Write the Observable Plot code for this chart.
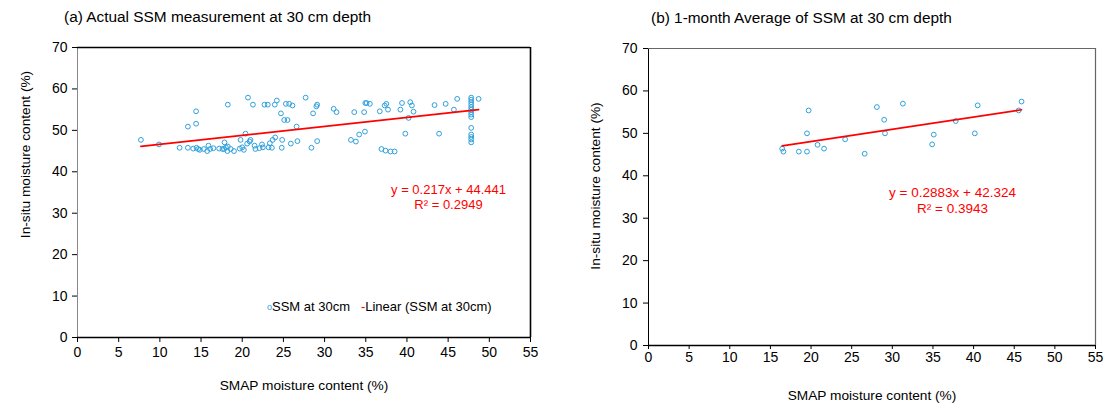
<!DOCTYPE html>
<html>
<head>
<meta charset="utf-8">
<script src="https://cdn.jsdelivr.net/npm/d3@7"></script>
<script src="https://cdn.jsdelivr.net/npm/@observablehq/plot@0.6"></script>
<style>
  html, body { margin: 0; padding: 0; background: #fff; }
  body { width: 1104px; height: 403px; position: relative; overflow: hidden;
         font-family: "Liberation Sans", Arial, sans-serif; }
  .panel { position: absolute; top: 0; }
  .title { position: absolute; font-size: 15.4px; color: #000; white-space: nowrap; }
  .legend { position: absolute; font-size: 13px; color: #000; white-space: nowrap; }
  svg text { font-family: "Liberation Sans", Arial, sans-serif; }
</style>
</head>
<body>
<div id="left" class="panel" style="left:0px"></div>
<div id="right" class="panel" style="left:560px"></div>
<div class="title" style="left:64px; top:8px;">(a) Actual SSM measurement at 30 cm depth</div>
<div class="title" style="left:651px; top:9px;">(b) 1-month Average of SSM at 30 cm depth</div>
<div class="legend" style="left:267px; top:299px;"><span style="color:#2fa0dc;font-size:9px;vertical-align:1px;">o</span>SSM at 30cm&nbsp;&nbsp;&nbsp;<span style="color:#ff0000">-</span>Linear (SSM at 30cm)</div>
<script>
// ---------- Data ----------
// Panel (a): actual SSM measurement at 30 cm depth
const smapA = [
  7.7, 9.9, 12.4, 13.4, 14.05, 14.45, 14.65, 14.85, 15.35, 15.75, 15.9, 16.1, 16.5,
  17.2, 17.6, 17.8, 18.0, 18.2, 18.25, 18.6, 17.85, 19.0, 18.25, 13.4, 14.4, 14.4,
  19.7, 20.0, 20.2, 19.8, 20.4, 20.6, 20.9, 21.0, 20.7, 21.3, 21.5, 21.6, 22.1, 22.4, 22.5,
  22.7, 23.1, 23.2, 23.6, 23.35, 23.7, 24.0, 23.95, 24.2, 24.7, 24.8, 24.85, 25.1, 25.5,
  25.3, 25.7, 26.1, 25.9, 26.6, 26.7, 27.7, 28.4, 28.6, 29.0, 29.1, 29.1,
  31.1, 31.45, 33.2, 33.8, 34.2, 34.9, 33.6, 34.8, 34.95, 35.1, 35.5, 36.7,
  36.9, 37.4, 38.0, 38.5, 37.3, 37.5, 37.7, 39.2, 39.4, 39.8, 40.2, 40.4, 40.6, 40.8,
  43.35, 43.9, 44.7, 45.7, 46.1,
  47.8, 47.8, 47.8, 47.8, 47.8, 47.8, 47.8, 47.8, 47.8, 47.8, 47.8, 47.8, 47.8, 47.8,
  48.7
];
const insituA = [
  47.7, 46.6, 45.8, 45.8, 45.6, 45.8, 45.5, 45.3, 45.5, 45.0, 46.3, 45.5, 45.7,
  45.6, 45.5, 45.5, 45.9, 45.0, 46.1, 45.5, 47.1, 45.0, 56.2, 50.9, 54.6, 51.6,
  45.6, 45.9, 45.3, 47.7, 49.2, 46.8, 47.3, 47.7, 57.9, 56.2, 46.3, 45.5, 45.7, 46.6, 45.9,
  56.2, 56.2, 45.9, 45.8, 46.9, 47.7, 48.3, 56.2, 57.2, 54.1, 45.8, 47.7, 52.5, 52.5,
  56.4, 56.4, 56.0, 46.8, 50.9, 47.4, 57.9, 45.8, 54.1, 55.8, 56.2, 47.4,
  55.2, 54.4, 47.7, 47.3, 49.0, 49.7, 54.4, 54.4, 56.6, 56.6, 56.4, 54.6,
  45.5, 45.1, 44.9, 44.9, 56.0, 56.4, 55.0, 55.0, 56.6, 49.2, 53.0, 56.8, 56.0, 54.5,
  56.1, 49.2, 56.4, 55.0, 57.6,
  57.9, 57.4, 56.8, 56.2, 55.6, 55.0, 54.4, 53.8, 53.2, 50.6, 49.0, 48.4, 47.8, 47.1,
  57.6
];
// Panel (b): 1-month average of SSM at 30 cm depth
const smapB = [16.45, 16.6, 18.5, 19.5, 19.7, 19.5, 20.8, 21.6, 24.2, 26.6, 28.1, 29.0, 29.1,
  31.3, 34.9, 35.1, 37.8, 40.15, 40.5, 45.55, 45.9];
const insituB = [46.4, 45.7, 45.7, 45.7, 55.4, 50.0, 47.3, 46.4, 48.6, 45.2, 56.2, 53.2, 50.0,
  57.0, 47.4, 49.7, 52.9, 50.0, 56.6, 55.4, 57.5];
// Trend lines as printed on the chart
const fitA = {slope: 0.217, intercept: 44.441, r2: "0.2949"};
const fitB = {slope: 0.2883, intercept: 42.324, r2: "0.3943"};
const xTicks = [0, 5, 10, 15, 20, 25, 30, 35, 40, 45, 50, 55];
const yTicks = [0, 10, 20, 30, 40, 50, 60, 70];

const BLUE = "#2fa0dc";
const RED = "#ff0000";

function trend(xs, fit) {
  const lo = d3.min(xs), hi = d3.max(xs);
  return [lo, hi].map(x => ({x, y: fit.slope * x + fit.intercept}));
}

function panel(opts) {
  const pts = opts.xs.map((x, i) => ({x, y: opts.ys[i]}));
  const line = trend(opts.xs, opts.fit);
  const eq = `y = ${opts.fit.slope}x + ${opts.fit.intercept}`;
  return Plot.plot({
    width: opts.width, height: 403,
    marginLeft: opts.ml, marginRight: opts.mr, marginTop: opts.mt, marginBottom: opts.mb,
    style: {fontFamily: "Liberation Sans, Arial, sans-serif", fontSize: "14px", color: "#000", background: "transparent"},
    x: {domain: [0, 55], ticks: xTicks, label: null},
    y: {domain: [0, 70], ticks: yTicks, label: null},
    marks: [
      Plot.ruleX([0], {stroke: opts.leftColor, strokeWidth: 1}),
      Plot.ruleX([55], {stroke: opts.frameColor, strokeWidth: opts.frameW}),
      Plot.ruleY([70], {stroke: opts.frameColor, strokeWidth: opts.frameW}),
      Plot.axisX({ticks: xTicks, tickSize: opts.tx, tickPadding: opts.txp, fontSize: 14, stroke: "#000"}),
      Plot.axisY({ticks: yTicks, tickSize: opts.ty, tickPadding: opts.typ, fontSize: 14, stroke: "#000"}),
      Plot.ruleY([0], {stroke: "#000", strokeWidth: 1.3}),
      Plot.dot(pts, {x: "x", y: "y", r: 2.4, stroke: BLUE, strokeWidth: 1, fill: "none"}),
      Plot.line(line, {x: "x", y: "y", stroke: RED, strokeWidth: 1.7}),
      Plot.text([eq], {frameAnchor: "top-left", dx: opts.eqx, dy: opts.eqy, fill: RED, fontSize: opts.eqf, textAnchor: "middle"}),
      Plot.text([`R² = ${opts.fit.r2}`], {frameAnchor: "top-left", dx: opts.eqx, dy: opts.eqy + opts.eqf * 1.15, fill: RED, fontSize: opts.eqf, textAnchor: "middle"}),
      Plot.text(["SMAP moisture content (%)"], {frameAnchor: "bottom", dy: opts.xly, fontSize: 13.7, fill: "#000"}),
      Plot.text(["In-situ moisture content (%)"], {frameAnchor: "left", rotate: -90, textAnchor: "middle", dx: opts.ylx, dy: opts.yly, fontSize: 13.7, fill: "#000"})
    ]
  });
}

document.getElementById("left").appendChild(panel({
  xs: smapA, ys: insituA, fit: fitA,
  width: 560, ml: 77, mr: 30, mt: 47, mb: 66,
  leftColor: "#888", frameColor: "#000", frameW: 1.6,
  tx: 5, txp: 5, ty: 5, typ: 5,
  eqx: 371, eqy: 137, eqf: 13, xly: 52, ylx: -52, yly: -38
}));

document.getElementById("right").appendChild(panel({
  xs: smapB, ys: insituB, fit: fitB,
  width: 544, ml: 88, mr: 9, mt: 48, mb: 58,
  leftColor: "#000", frameColor: "#666", frameW: 1.2,
  tx: 4, txp: 3, ty: 5, typ: 6,
  eqx: 304, eqy: 139, eqf: 13.5, xly: 54, ylx: -53, yly: -11
}));
</script>
</body>
</html>
